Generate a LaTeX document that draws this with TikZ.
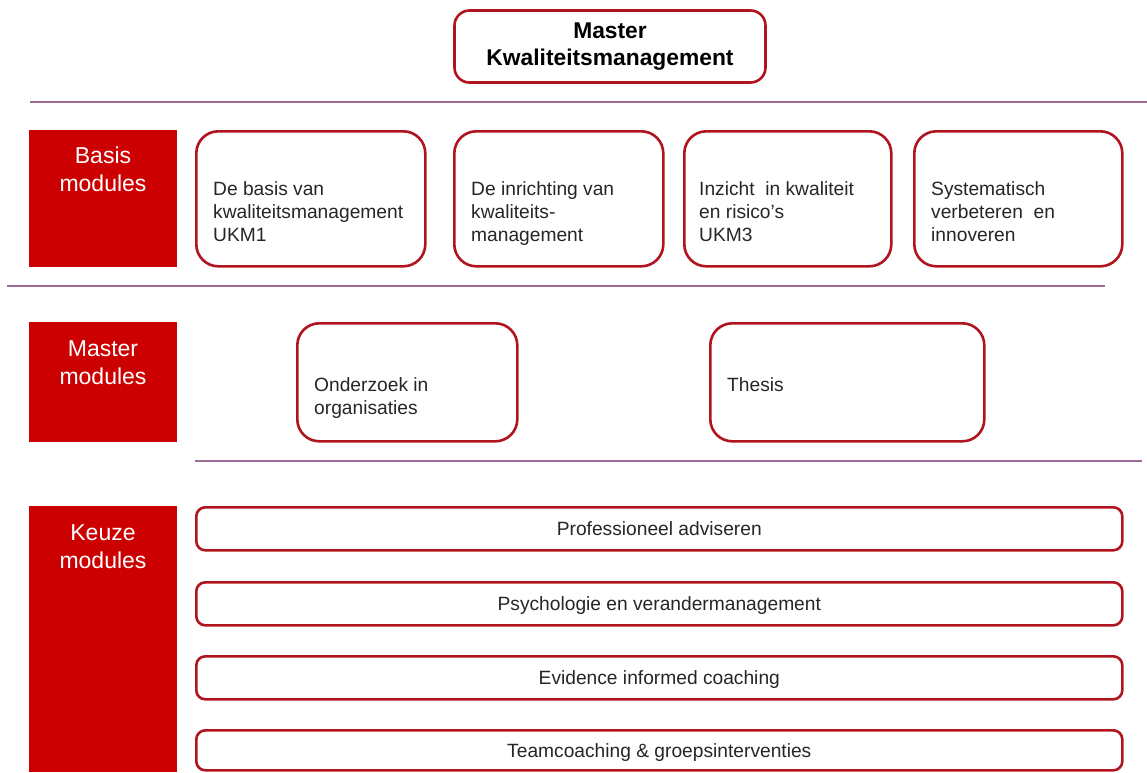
\documentclass[tikz,border=0pt]{standalone}
\usepackage{fontspec}
\setmainfont{Liberation Sans}
\definecolor{kmred}{HTML}{CC0000}
\definecolor{kmrim}{HTML}{B0141E}
\definecolor{kmline}{HTML}{9C6A92}

\begin{document}
\begin{tikzpicture}[x=1pt, y=-1pt,
  redbar/.style={fill=kmred, anchor=north west, inner sep=0pt, outer sep=0pt, minimum width=148pt},
  redlabel/.style={anchor=north, inner sep=0pt, align=center, text=white, font=\fontsize{23}{28}\selectfont},
  modbox/.style={draw=kmrim, line width=2.6pt, fill=white, rounded corners=22pt, anchor=north west, inner sep=0pt},
  keuzebox/.style={draw=kmrim, line width=2.6pt, fill=white, rounded corners=9pt, anchor=north west, inner sep=0pt, minimum width=926pt, text height=13.8pt, text depth=0pt, font=\fontsize{19.2}{23}\selectfont, text=black!85},
  modtext/.style={anchor=north west, inner sep=0pt, align=left, font=\fontsize{19.2}{23}\selectfont, text=black!85},
  divider/.style={draw=kmline, line width=1.2pt}]

\useasboundingbox (0,0) rectangle (1147,772);

\node [draw=kmrim, line width=2.6pt, rounded corners=15pt, minimum width=311pt, minimum height=72pt, align=center, font=\bfseries\fontsize{22.8}{27}\selectfont] (titel) at (610,46.5) {Master\\Kwaliteitsmanagement};

\draw [divider] (30,102) -- (1147,102);
\draw [divider] (7,286) -- (1105,286);
\draw [divider] (195,461) -- (1142,461);

% basis modules
\node [redbar, minimum height=137pt] (basis) at (29,130) {};
\node [redlabel] (basisl) at (103,147) {Basis\\modules};

\node [modbox, minimum width=229pt, minimum height=135pt] (ukm1) at (195,130) {};
\node [modbox, minimum width=209pt, minimum height=135pt] (ukm2) at (453,130) {};
\node [modbox, minimum width=207pt, minimum height=135pt] (ukm3) at (683,130) {};
\node [modbox, minimum width=208pt, minimum height=135pt] (ukm4) at (913,130) {};

\node [modtext] (ukm1t) at (213,181) {De basis van\\kwaliteitsmanagement\\UKM1};
\node [modtext] (ukm2t) at (471,181) {De inrichting van\\kwaliteits-\\management};
\node [modtext] (ukm3t) at (699,181) {Inzicht\ \ in kwaliteit\\en risico’s\\UKM3};
\node [modtext] (ukm4t) at (931,181) {Systematisch\\verbeteren\ \ en\\innoveren};

% master modules
\node [redbar, minimum height=120pt] (master) at (29,322) {};
\node [redlabel] (masterl) at (103,340) {Master\\modules};

\node [modbox, minimum width=220pt, minimum height=118pt] (onderzoek) at (296,322) {};
\node [modbox, minimum width=274pt, minimum height=118pt] (thesis) at (709,322) {};

\node [modtext] (onderzoekt) at (314,377) {Onderzoek in\\organisaties};
\node [modtext] (thesist) at (727,377) {Thesis};

% keuze modules
\node [redbar, minimum height=266pt] (keuze) at (29,506) {};
\node [redlabel] (keuzel) at (103,524) {Keuze\\modules};

\node [keuzebox, minimum height=43pt] (advies) at (195,506) {Professioneel adviseren};
\node [keuzebox, minimum height=43pt] (psycho) at (195,581) {Psychologie en verandermanagement};
\node [keuzebox, minimum height=43pt] (coach) at (195,655) {Evidence informed coaching};
\node [keuzebox, minimum height=40pt] (team) at (195,729) {Teamcoaching \& groepsinterventies};

\end{tikzpicture}
\end{document}
